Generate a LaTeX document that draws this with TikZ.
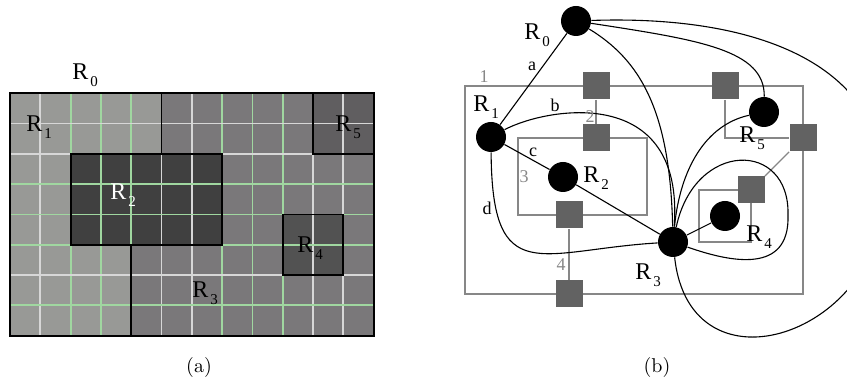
\documentclass[tikz,border=0pt]{standalone}
\usepackage{fontspec}
\usepackage{tikz}
\newfontfamily\labfont{Liberation Serif}

\definecolor{rone}{RGB}{152,153,150}
\definecolor{rthree}{RGB}{122,120,122}
\definecolor{rtwo}{RGB}{64,64,64}
\definecolor{rfive}{RGB}{96,94,96}
\definecolor{rfour}{RGB}{82,82,82}
\definecolor{gridgreen}{RGB}{160,215,160}
\definecolor{gridwhite}{RGB}{215,215,215}
\definecolor{portgray}{RGB}{98,98,98}
\definecolor{wallgray}{RGB}{135,135,135}

\newcommand\rlab[1]{{\labfont\fontsize{12}{14}\selectfont R\kern1pt\raisebox{-3.5pt}{\fontsize{7.5}{8}\selectfont #1}}}

\tikzset{
  vtx/.style={circle,fill=black,inner sep=0pt,minimum size=15pt},
  sq/.style={rectangle,fill=portgray,inner sep=0pt,minimum size=13.5pt},
  wall/.style={draw=wallgray,line width=0.65pt},
  lnk/.style={line width=0.55pt},
  rname/.style={anchor=base west,inner sep=0pt},
  elab/.style={font=\labfont\fontsize{9}{10}\selectfont,inner sep=0pt},
  flab/.style={font=\labfont\fontsize{9}{10}\selectfont,text=wallgray,inner sep=0pt},
  gline/.style={draw=gridgreen,line width=0.9pt},
  wline/.style={draw=gridwhite,line width=0.9pt},
  border/.style={draw=black,line width=0.9pt}
}

\begin{document}
\begin{tikzpicture}[x=0.5pt,y=-0.5pt]
\useasboundingbox (0,0) rectangle (847,383);

\begin{scope}[shift={(10,93.3)},x=15.15pt,y=-15.15pt]
\fill[rthree] (0,0) rectangle (12,8);
\fill[rone] (0,0) -- (5,0) -- (5,2) -- (2,2) -- (2,5) -- (4,5) -- (4,8) -- (0,8) -- cycle;
\fill[rtwo] (2,2) rectangle (7,5);
\fill[rfive] (10,0) rectangle (12,2);
\fill[rfour] (9,4) rectangle (11,6);
\foreach \k in {1,5,6,10,11} \draw[wline] (\k,0) -- (\k,8);
\foreach \k in {2,3,4,7,8,9} \draw[gline] (\k,0) -- (\k,8);
\foreach \k in {1,2,6} \draw[wline] (0,\k) -- (12,\k);
\foreach \k in {3,4,5,7} \draw[gline] (0,\k) -- (12,\k);
\draw[border] (0,0) rectangle (12,8);
\draw[border] (5,0) -- (5,2);
\draw[border] (4,5) -- (4,8);
\draw[border] (2,2) rectangle (7,5);
\draw[border] (10,0) rectangle (12,2);
\draw[border] (9,4) rectangle (11,6);
\end{scope}

\node[rname] (a0) at (72,80) {\rlab{0}};
\node[rname] (a1) at (26,132) {\rlab{1}};
\node[rname,text=white] (a2) at (110,200) {\rlab{2}};
\node[rname] (a3) at (192,298) {\rlab{3}};
\node[rname] (a4) at (297,253) {\rlab{4}};
\node[rname] (a5) at (335,132) {\rlab{5}};
\node (capa) at (199,368) {(a)};

% nested frames
\draw[wall] (465,86) rectangle (803,294);
\draw[wall] (518,138) rectangle (647,215);
\draw[wall] (699,190) rectangle (751,242);

\node[sq] (p1) at (596,86) {};
\node[sq] (p2) at (596,138) {};
\node[sq] (p3) at (569,215) {};
\node[sq] (p4) at (569,294) {};
\node[sq] (p5) at (725,86) {};
\node[sq] (p6) at (803,138) {};
\node[sq] (p7) at (751,190) {};

\draw[wall] (p1) -- (p2);
\draw[wall] (p3) -- (p4);
\draw[wall] (p5) |- (p6);
\draw[wall] (p6) -- (p7);

\node[vtx] (R0) at (576,21) {};
\node[vtx] (R1) at (491,137) {};
\node[vtx] (R2) at (563,177) {};
\node[vtx] (R3) at (673,242) {};
\node[vtx] (R4) at (725,216) {};
\node[vtx] (R5) at (764,112) {};

\draw[lnk] (R0) -- (R1);
\draw[lnk] (R1) -- (R2);
\draw[lnk] (R2) -- (R3);
\draw[lnk] (R3) -- (R4);
\draw[lnk] (R1) .. controls (545,108) and (685,82) .. (R3);
\draw[lnk] (R1) .. controls (492,290) and (540,250) .. (R3);
\draw[lnk] (R0) .. controls (640,60) and (670,110) .. (R3);
\draw[lnk] (R0) .. controls (700,40) and (765,50) .. (R5);
\draw[lnk] (R0) .. controls (750,15) and (885,60) .. (885,190) .. controls (885,335) and (690,400) .. (R3);
\draw[lnk] (R5) .. controls (705,125) and (680,170) .. (R3);
\draw[lnk] (R3) .. controls (695,140) and (790,140) .. (788,215) .. controls (790,275) and (730,262) .. (R3);

\node[rname] (b0) at (524,40) {\rlab{0}};
\node[rname] (b1) at (473,112) {\rlab{1}};
\node[rname] (b2) at (583,183) {\rlab{2}};
\node[rname] (b3) at (635,280) {\rlab{3}};
\node[rname] (b4) at (746,242) {\rlab{4}};
\node[rname] (b5) at (739,143) {\rlab{5}};

\node[elab] (la) at (532,66) {a};
\node[elab] (lb) at (555,105) {b};
\node[elab] (lc) at (533,152) {c};
\node[elab] (ld) at (487,208) {d};

\node[flab] (f1) at (484,77) {1};
\node[flab] (f2) at (590,117) {2};
\node[flab] (f3) at (524,177) {3};
\node[flab] (f4) at (561,265) {4};

\node (capb) at (657,368) {(b)};
\end{tikzpicture}
\end{document}
